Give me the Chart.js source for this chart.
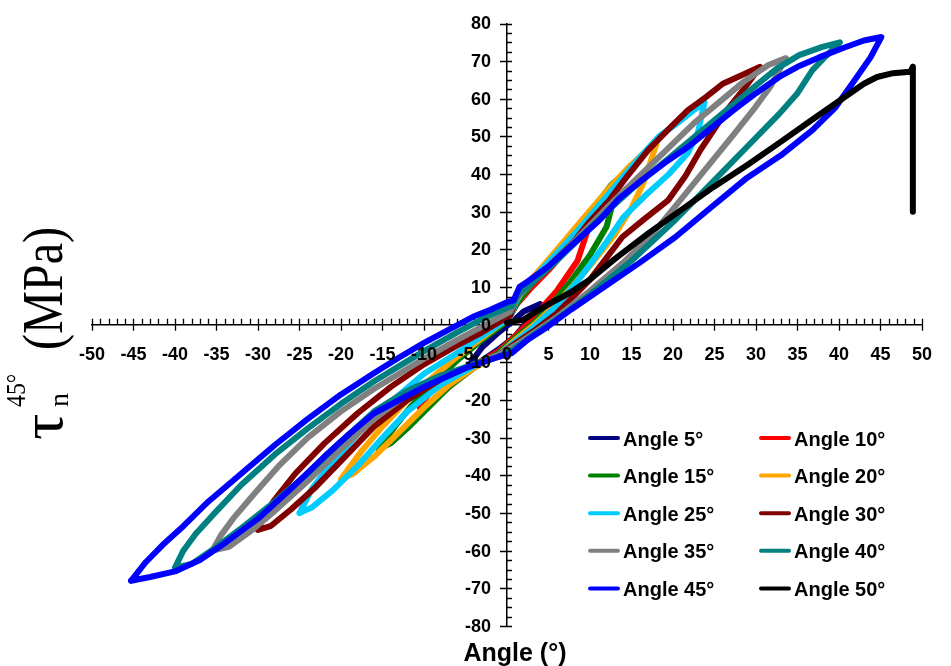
<!DOCTYPE html>
<html>
<head>
<meta charset="utf-8">
<script src="https://cdn.jsdelivr.net/npm/chart.js@4.4.1/dist/chart.umd.min.js"></script>
<style>
html,body{margin:0;padding:0;background:#fff;}
canvas{display:block;}
</style>
</head>
<body>
<canvas id="c" width="951" height="666" style="width:951px;height:666px"></canvas>
<script>
// ---- data (x = angle in degrees, y = shear stress in MPa) ----
const seriesLabels = ["Angle 5°","Angle 10°","Angle 15°","Angle 20°","Angle 25°","Angle 30°","Angle 35°","Angle 40°","Angle 45°","Angle 50°"];
const xTickValues = [-50,-45,-40,-35,-30,-25,-20,-15,-10,-5,0,5,10,15,20,25,30,35,40,45,50];
const yTickValues = [-80,-70,-60,-50,-40,-30,-20,-10,0,10,20,30,40,50,60,70,80];

const angle5 = [[-5,-12],[-3,-9.5],[-1,-6.5],[1,-3],[2.5,1],[4,5.5],[3,4.5],[2,3.5],[1,1.5],[-1,-2],[-3,-6],[-5,-12]];
const angle10 = [[-10.5,-22],[-9,-20.5],[-7,-16.5],[-4,-11],[-1,-7],[1,-3],[3,1.5],[6,9],[8.5,17],[10,27],
  [9,24.5],[7,19.5],[5,14.5],[3,10],[1.2,5.5],[0,1],[-3,-3.5],[-6,-9],[-8.5,-15],[-10.5,-22]];
const angle15 = [[-15.5,-33],[-14,-31.5],[-12,-27.5],[-9.5,-22],[-7,-16.5],[-4,-11.5],[-1,-7.5],
  [1,-3.5],[3,0],[5,4.5],[7.5,11],[10,18.5],[12,26],[13.5,39],
  [12.5,37],[11,32.5],[9,27],[7,21.5],[5,16],[3,11],[1.3,6],[0,1],[-3,-4],[-6,-9.5],[-9,-15.5],[-11.5,-21.5],[-13.5,-27],[-15.5,-33]];
const angle20 = [[-20,-41],[-18.5,-39.5],[-16,-35],[-13,-28.5],[-10,-22],[-7,-16],[-4,-11.5],[-1,-8],
  [1,-4],[3,-0.5],[5.5,4.5],[8,10.5],[10.5,17],[13,24],[15,31],[16.5,38],[18,48],
  [16.7,46],[14.5,41.5],[12,35.5],[9.5,29],[7,22.5],[4.5,16],[2.5,11],[1,6],[0,1.5],[-3,-3.5],[-6,-8.5],[-9,-14],[-12,-20],[-15,-27],[-17.5,-33.5],[-20,-41]];
const angle25 = [[-25,-50],[-23.5,-48.5],[-21,-44],[-18,-37.5],[-15,-30],[-12,-23],[-8,-16],[-4,-11],[-1,-8],
  [1,-4.5],[3,-1],[6,5],[9,13],[12,22],[14,28.5],[17,35],[19.5,40],[21.8,45.6],[23,51],[23.8,59],
  [22.5,57],[20.5,53.5],[18.3,50],[16,44.5],[13.5,38],[11,31.5],[8.5,25],[6,19],[3.5,13],[1.5,8.5],[0.4,2],
  [-3,-3],[-6,-7.5],[-10,-13],[-14,-20.5],[-18,-29],[-21,-36.5],[-23.5,-43.5],[-25,-50]];
const angle30 = [[-30,-54.5],[-28.5,-53.5],[-26,-49],[-23,-43],[-19.5,-35],[-16,-27],[-12,-20],[-8,-14.5],[-4,-10.5],[-1,-8],
  [1,-5],[3,-2],[6,3],[10,12],[13.9,23.3],[16.5,28],[19.4,33],[21.5,39.5],[23.3,46.4],[25,52],[26.5,57],[28.5,62.5],[30.5,68.5],
  [28,66],[26,64],[24,60.5],[21.8,57],[19.5,52],[17,46.4],[14.5,39.5],[12.3,33],[10,27.5],[8.2,22.5],[5,15.5],[2.5,10.5],[1.2,7.5],[0.4,2.5],
  [-3,-2],[-6,-5.5],[-10,-10.5],[-14,-16.5],[-18,-23.5],[-22,-31.5],[-25.5,-39.5],[-28,-46.5],[-29.3,-50.5],[-30,-54.5]];
const angle35 = [[-35.5,-60],[-33.5,-59],[-31,-55],[-28,-49.5],[-24,-41.5],[-20,-33],[-16,-25],[-12,-18.5],[-8,-14],[-4,-10.5],[-1,-8],
  [1,-5.5],[3,-2.5],[6,2],[10,9],[14,16.5],[17.5,24],[20.3,31.5],[23.8,41],[27.3,50.5],[30,58],[31.8,63.5],[33.6,70.8],
  [31.5,69],[28.5,64.5],[25.5,59],[22.5,53.5],[19,46],[15.5,38.5],[12,31],[8.5,23],[5,15.5],[2.5,10],[1.3,7.5],[0.4,3.5],
  [-3,-0.5],[-6,-4],[-10,-9],[-13,-13],[-16,-17],[-20,-23],[-24,-30],[-27.5,-37.5],[-30.5,-45],[-33,-51.5],[-34.5,-56],[-35.5,-60]];
const angle40 = [[-40,-64.5],[-38,-63.5],[-35,-59],[-32,-54],[-28,-47],[-24,-39.5],[-20,-31],[-16,-23],[-12,-17.5],[-8,-13.5],[-4,-10.5],[-1,-8.5],
  [0.8,-6.5],[3,-3],[6,1.5],[10,8],[15,17],[20.3,27.9],[24.2,36.6],[28.9,47.2],[32.8,56],[35,61.5],[36.8,67.6],[38.5,71.5],[40.1,75],
  [38,73.8],[35.2,71.6],[32.5,68],[29.7,63],[27,58],[24,52.5],[21,47],[18,41.5],[15,36],[12,30],[9,23.5],[6,17],[3,11],[1.5,8.5],[0.6,5],[0,4.5],
  [-3,1.5],[-6,-2],[-10,-7],[-13,-11],[-16,-15],[-20,-21],[-24,-27.5],[-28,-34.5],[-32,-42.5],[-35,-49.5],[-37.5,-55.5],[-39,-60],[-40,-64.5]];
const angle45 = [[-45.3,-68],[-43,-67],[-40,-65.5],[-37,-62.5],[-34,-58],[-30,-51.5],[-26,-43.5],[-22,-35],[-19,-29],[-16,-23.5],[-10,-16.5],[-5,-11.5],[-1,-8.5],
  [0.6,-7.5],[2.5,-4],[4.9,-0.5],[7.7,4],[12,10.5],[16,16.5],[20.3,23.3],[24.5,31],[28.9,39],[33,45],[36.8,51.7],[39.5,57.5],[41.9,65],[43.8,71],[45.1,76.4],
  [43,75.5],[40.5,73.5],[37.6,71],[35,68.5],[32.8,65.8],[30,61.5],[27.3,57],[24.5,52],[21.8,47.2],[19,43],[16.3,38.5],[13.5,33.5],[11.2,27.9],[8,21.5],[5,15.5],[2.5,11.5],[1.5,10],[0.8,6.5],[0,6],
  [-2,4],[-4.1,2.1],[-7,-1.3],[-10,-4.8],[-13,-8.7],[-16,-12.8],[-20,-18.5],[-24,-25],[-28,-32],[-32,-39.5],[-36,-47],[-39,-53.5],[-41.5,-58.5],[-43.5,-63],[-45.3,-68]];
const angle50 = [[0,0.5],[1,1],[2,1.3],[3.5,3.5],[5.3,5.8],[7.6,8.5],[10,12],[13,17.5],[17.1,24.4],[21,30.5],[24.9,36.6],[29,42.5],[32.8,48.3],[36.8,54.5],[40.7,60.5],[43,64],[44.6,65.8],[46.5,66.8],[48.6,67.2],[48.9,68.5],[48.9,30]];

const seriesData = [angle5, angle10, angle15, angle20, angle25, angle30, angle35, angle40, angle45, angle50];
const seriesColors = ["#000080","#FF0000","#008000","#FFA500","#00CCFF","#800000","#808080","#008080","#0000FF","#000000"];

// ---- plugins ----
const tickFontCss = 'bold 18px "Liberation Sans", Arial, sans-serif';

const axisTicks = {
  id: 'axisTicks',
  beforeDatasetsDraw(chart) {
    const {ctx, scales:{x, y}} = chart;
    const x0 = x.getPixelForValue(0), y0 = y.getPixelForValue(0);
    ctx.save();
    ctx.strokeStyle = '#000';
    ctx.lineWidth = 1.3;
    ctx.beginPath();
    for (let v = -50; v <= 50; v++) {
      const px = Math.round(x.getPixelForValue(v)) + 0.5;
      if (v % 5 === 0) { ctx.moveTo(px, y0 - 6); ctx.lineTo(px, y0 + 6); }
      else { ctx.moveTo(px, y0 - 6); ctx.lineTo(px, y0); }
    }
    for (let v = -80; v <= 80; v += 2.5) {
      const py = Math.round(y.getPixelForValue(v)) + 0.5;
      if (v % 10 === 0) { ctx.moveTo(x0 - 7, py); ctx.lineTo(x0 + 5, py); }
      else { ctx.moveTo(x0, py); ctx.lineTo(x0 + 5, py); }
    }
    ctx.stroke();
    ctx.restore();
  },
  afterDatasetsDraw(chart) {
    // y tick labels, placed left of the centred y axis
    const {ctx, scales:{x, y}} = chart;
    const x0 = x.getPixelForValue(0);
    ctx.save();
    ctx.fillStyle = '#000';
    ctx.font = tickFontCss;
    ctx.textAlign = 'right';
    ctx.textBaseline = 'middle';
    yTickValues.forEach(v => {
      ctx.fillText(String(v), x0 - 16, y.getPixelForValue(v) + 1);
    });
    ctx.restore();
  }
};

const titles = {
  id: 'titles',
  afterDraw(chart) {
    const ctx = chart.ctx;
    ctx.save();
    ctx.fillStyle = '#000';
    ctx.font = 'bold 25px "Liberation Sans", Arial, sans-serif';
    ctx.textAlign = 'center';
    ctx.textBaseline = 'alphabetic';
    ctx.fillText('Angle (°)', 515, 661);
    ctx.translate(62, 440);
    ctx.rotate(-Math.PI / 2);
    ctx.textAlign = 'left';
    const put = (s, u, v, font, sx) => {
      ctx.save(); ctx.translate(u, v); ctx.scale(sx, 1); ctx.font = font; ctx.fillText(s, 0, 0); ctx.restore();
    };
    put('τ', 0, 0, '60px "Liberation Serif", "Times New Roman", serif', 1.1);
    put('45°', 33, -37, '28px "Liberation Serif", "Times New Roman", serif', 0.85);
    put('n', 33, 6, '28px "Liberation Serif", "Times New Roman", serif', 1.0);
    put('(MPa)', 90, 0, '56px "Liberation Serif", "Times New Roman", serif', 0.86);
    ctx.restore();
  }
};

const customLegend = {
  id: 'customLegend',
  afterDraw(chart) {
    const ctx = chart.ctx;
    ctx.save();
    ctx.font = 'bold 20px "Liberation Sans", Arial, sans-serif';
    ctx.textAlign = 'left';
    ctx.textBaseline = 'middle';
    chart.data.datasets.forEach((ds, i) => {
      const col = i % 2, row = Math.floor(i / 2);
      const lx = col ? 759 : 588;
      const ly = 438 + row * 37.6;
      ctx.strokeStyle = ds.borderColor;
      ctx.lineWidth = 4;
      ctx.lineCap = 'round';
      ctx.beginPath(); ctx.moveTo(lx + 2, ly); ctx.lineTo(lx + 30, ly); ctx.stroke();
      ctx.fillStyle = '#000';
      ctx.fillText(ds.label, lx + 35, ly + 2);
    });
    ctx.restore();
  }
};

const tickFont = {family: '"Liberation Sans", Arial, sans-serif', weight: 'bold', size: 18};

new Chart(document.getElementById('c'), {
  type: 'scatter',
  data: {
    datasets: seriesData.map((d, i) => ({
      label: seriesLabels[i],
      data: d.map(p => ({x: p[0], y: p[1]})),
      showLine: true,
      borderColor: seriesColors[i],
      backgroundColor: seriesColors[i],
      borderWidth: 6,
      pointRadius: 0,
      pointHoverRadius: 0,
      tension: 0,
      fill: false,
      borderJoinStyle: 'round',
      borderCapStyle: 'round',
      order: 10 - i
    }))
  },
  options: {
    responsive: false,
    animation: false,
    events: [],
    layout: {padding: {left: 92, right: 12, top: 23.5, bottom: 40}},
    plugins: {legend: {display: false}, tooltip: {enabled: false}},
    scales: {
      x: {
        type: 'linear', min: -50, max: 50, position: {y: 0},
        afterBuildTicks: s => { s.ticks = xTickValues.map(v => ({value: v})); },
        grid: {display: false, drawTicks: false},
        border: {display: true, color: '#000', width: 1.5},
        ticks: {autoSkip: false, maxRotation: 0, padding: 19, color: '#000', font: tickFont, z: 1}
      },
      y: {
        type: 'linear', min: -80, max: 80, position: {x: 0},
        afterBuildTicks: s => { s.ticks = yTickValues.map(v => ({value: v})); },
        grid: {display: false, drawTicks: false},
        border: {display: true, color: '#000', width: 1.5},
        ticks: {display: false}
      }
    }
  },
  plugins: [axisTicks, titles, customLegend]
});
</script>
</body>
</html>
